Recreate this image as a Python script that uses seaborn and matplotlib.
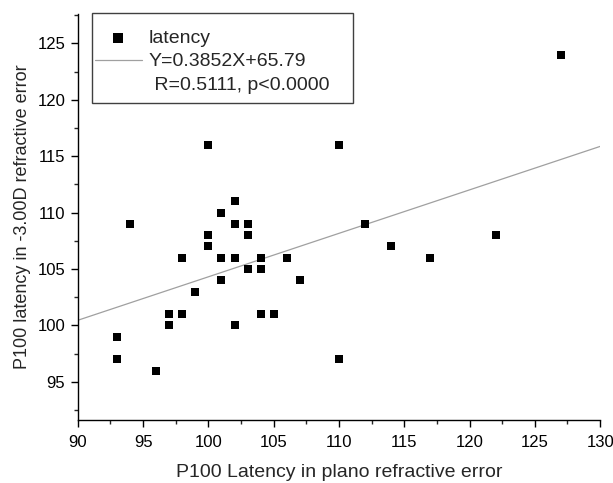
import numpy as np
import pandas as pd
import seaborn as sns
import matplotlib.pyplot as plt
from matplotlib.patches import Rectangle
from matplotlib.ticker import MultipleLocator

# data
plano = [93, 93, 94, 96, 97, 97, 98, 98, 99, 100, 100, 100, 101, 101, 101,
         102, 102, 102, 102, 103, 103, 103, 104, 104, 104, 105, 106, 107,
         110, 110, 112, 114, 117, 122, 127]
minus3 = [99, 97, 109, 96, 101, 100, 101, 106, 103, 108, 107, 116, 110, 106, 104,
          111, 109, 106, 100, 109, 108, 105, 106, 105, 101, 101, 106, 104,
          116, 97, 109, 107, 106, 108, 124]
slope = 0.3852
intercept = 65.79
fit_label = "Y=0.3852X+65.79"
stat_label = " R=0.5111, p<0.0000"

data = pd.DataFrame({"plano": plano, "minus3": minus3})

sns.set_style("ticks")
plt.rcParams['font.family'] = ['Liberation Sans', 'DejaVu Sans']

fig = plt.figure(figsize=(6.13, 4.83), dpi=100)
ax = fig.add_axes([0.127, 0.130, 0.852, 0.841])

ax.set_xlim(90, 130)
ax.set_ylim(91.6, 127.6)

sns.scatterplot(data=data, x="plano", y="minus3", marker="s", s=36,
                color="black", edgecolor="black", linewidth=0, ax=ax,
                label="latency", zorder=3)

xs = np.array(ax.get_xlim())
ax.plot(xs, slope * xs + intercept, color="#a0a0a0", lw=0.9, label=fit_label)
# stats line of the legend, no handle
ax.plot([], [], color="none", label=stat_label)

ax.xaxis.set_major_locator(MultipleLocator(5))
ax.xaxis.set_minor_locator(MultipleLocator(2.5))
ax.yaxis.set_major_locator(MultipleLocator(5))
ax.yaxis.set_minor_locator(MultipleLocator(2.5))
ax.tick_params(which="major", direction="out", length=5, width=1, labelsize=12,
               colors="black", pad=4)
ax.tick_params(axis="x", which="major", pad=6)
ax.tick_params(which="minor", direction="out", length=3, width=1)
for side in ["top", "right"]:
    ax.spines[side].set_visible(False)
for side in ["left", "bottom"]:
    ax.spines[side].set_color("black")
    ax.spines[side].set_linewidth(1)

ax.set_xlabel("P100 Latency in plano refractive error", fontsize=14, labelpad=10)
ax.set_ylabel("P100 latency in -3.00D refractive error", fontsize=13, labelpad=5)

# legend without its own frame, box drawn separately (wider than the text)
leg = ax.legend(loc="upper left", bbox_to_anchor=(0.033, 0.962), borderaxespad=0,
                fontsize=14, frameon=False, handlelength=2.4, handletextpad=0.35,
                borderpad=0, labelspacing=0.3, markerscale=1.1)
ax.add_patch(Rectangle((0.027, 0.782), 0.500, 0.221, transform=ax.transAxes,
                       fill=False, edgecolor="#404040", lw=1, clip_on=False, zorder=4))

fig.savefig("out.png", dpi=100)
